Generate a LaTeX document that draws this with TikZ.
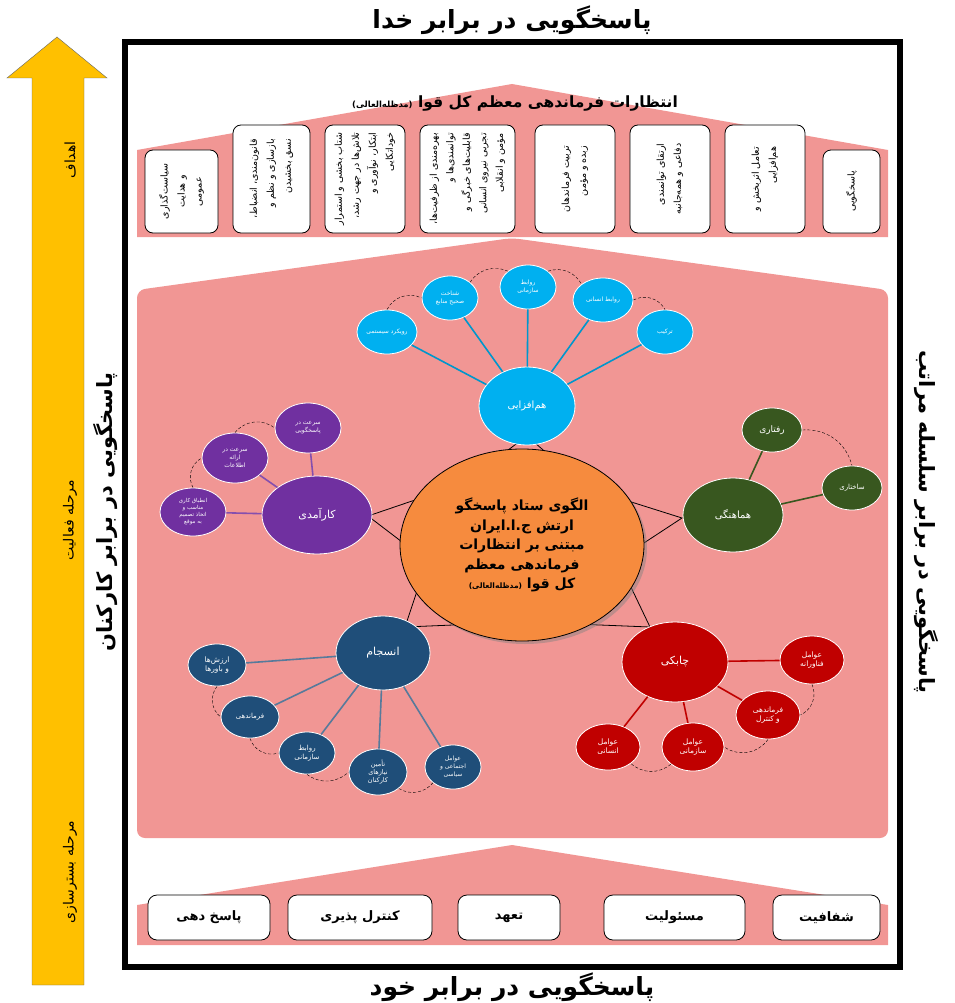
\documentclass[tikz,border=0pt]{standalone}
\usepackage{fontspec}
\usetikzlibrary{shapes.geometric,shadows}
\newfontfamily\fafont[Script=Arabic]{DejaVu Sans}
\TeXXeTstate=1
\newcommand{\fa}[1]{\beginR #1\endR}
\newcommand{\fsz}[2]{\fontsize{#1}{#2}\selectfont}
\definecolor{housepink}{HTML}{F19694}
\definecolor{coreorange}{HTML}{F68B3E}
\definecolor{arrowgold}{HTML}{FFC000}
\definecolor{synblue}{HTML}{00B0F0}
\definecolor{crdgreen}{HTML}{38571F}
\definecolor{effpurple}{HTML}{7030A0}
\definecolor{cohnavy}{HTML}{1F4E79}
\definecolor{aglred}{HTML}{C00000}

\begin{document}
\begin{tikzpicture}[x=1pt, y=-1pt,
    every node/.style={font=\fafont},
    ttl/.style={font=\fafont\bfseries\fsz{21}{25}},
    topbox/.style={draw, thick, fill=white, rounded corners=8pt, rotate=90, align=right, inner sep=2pt, font=\fafont\fsz{9.5}{17}},
    basebox/.style={draw, thick, fill=white, rounded corners=9pt, minimum height=45, font=\fafont\bfseries\fsz{13}{15}},
    hub/.style={ellipse, draw=white, thick, fill=#1, text=white, inner sep=0pt, font=\fafont\fsz{10}{12}},
    leaf/.style={ellipse, draw=white, thick, fill=#1, text=white, inner sep=0pt, align=center, font=\fafont\fsz{6}{8}},
    twig/.style={line width=1.6pt},
    dasharc/.style={densely dashed, thin},
    phase/.style={rotate=90, font=\fafont\fsz{14}{16}}]
    \useasboundingbox (0,0) rectangle (954,1003);

    % frame and titles
    \draw[line width=6pt] (125,42) rectangle (900,967);
    \node[ttl, font=\fafont\bfseries\fsz{25}{28}] (god) at (512,20) {\fa{پاسخگویی در برابر خدا}};
    \node[ttl, font=\fafont\bfseries\fsz{25}{28}] (self) at (512,987) {\fa{پاسخگویی در برابر خود}};
    \node[ttl, rotate=90] (staff) at (106,512) {\fa{پاسخگویی در برابر کارکنان}};
    \node[ttl, rotate=-90] (chain) at (926,522) {\fa{پاسخگویی در برابر سلسله مراتب}};

    % phase arrow
    \draw[fill=arrowgold, draw=black!60] (32,985) -- (32,78) -- (7,78) -- (57,37) -- (107,78) -- (84,78) -- (84,985) -- cycle;
    \node[phase] (goal) at (70,160) {\fa{اهداف}};
    \node[phase] (act) at (70,520) {\fa{مرحله فعالیت}};
    \node[phase] (base) at (70,872) {\fa{مرحله بسترسازی}};

    % houses
    \fill[housepink] (137,237) -- (137,150) -- (512,84) -- (888,150) -- (888,237) -- cycle;
    \fill[housepink, rounded corners=8pt] (137,838) -- (137,290) -- (512,238) -- (888,290) -- (888,838) -- cycle;
    \fill[housepink] (137,945) -- (137,905) -- (512,845) -- (888,905) -- (888,945) -- cycle;

    \node[font=\fafont\bfseries\fsz{15.5}{18}] (lead) at (515,104) {\fa{انتظارات فرماندهی معظم کل قوا {\fsz{8.5}{10}(مدظله‌العالی)}}};

    % top boxes
    \node[topbox, minimum width=83, minimum height=73, align=center] (t1) at (181.5,191.5) {\fa{سیاست‌گذاری}\\\fa{و هدایت}\\\fa{عمومی}};
    \node[topbox, minimum width=108, minimum height=77] (t2) at (271.5,179) {\fa{قانون‌مندی، انضباط،}\\\fa{بازسازی و نظم و}\\\fa{نسق بخشیدن}};
    \node[topbox, minimum width=108, minimum height=80] (t3) at (365,179) {\fa{شتاب بخشی و استمرار}\\\fa{تلاش‌ها در جهت رشد،}\\\fa{ابتکار، نوآوری و}\\\fa{خوداتکایی}};
    \node[topbox, minimum width=108, minimum height=95, font=\fafont\fsz{9.5}{16.5}] (t4) at (467.5,179) {\fa{بهره‌مندی از ظرفیت‌ها،}\\\fa{توانمندی‌ها و}\\\fa{قابلیت‌های خبرگی و}\\\fa{تجربی نیروی انسانی}\\\fa{مؤمن و انقلابی}};
    \node[topbox, minimum width=108, minimum height=80] (t5) at (575,179) {\fa{تربیت فرماندهان}\\\fa{زبده و مؤمن}};
    \node[topbox, minimum width=108, minimum height=80] (t6) at (670,179) {\fa{ارتقای توانمندی}\\\fa{دفاعی و همه‌جانبه}};
    \node[topbox, minimum width=108, minimum height=80] (t7) at (765,179) {\fa{تعامل اثربخش و}\\\fa{هم‌افزایی}};
    \node[topbox, minimum width=83, minimum height=57] (t8) at (851.5,191.5) {\fa{پاسخگویی}};

    % bottom boxes
    \node[basebox, minimum width=122] (b1) at (209,917.5) {\fa{پاسخ دهی}};
    \node[basebox, minimum width=144] (b2) at (360,917.5) {\fa{کنترل پذیری}};
    \node[basebox, minimum width=102] (b3) at (509,917.5) {\fa{تعهد}};
    \node[basebox, minimum width=141] (b4) at (674.5,917.5) {\fa{مسئولیت}};
    \node[basebox, minimum width=107] (b5) at (826.5,917.5) {\fa{شفافیت}};

    % core with star
    \draw[thick] (527,436) -- (587,488) -- (682,518) -- (618,560) -- (650,627) -- (525,622) -- (405,627) -- (427,561) -- (368,516) -- (462,484) -- cycle;
    \node[ellipse, draw, thick, fill=coreorange, minimum width=244, minimum height=192, align=center,
          drop shadow={opacity=0.45, shadow xshift=3pt, shadow yshift=-3pt},
          font=\fafont\bfseries\fsz{14}{19.5}] (core) at (522,545)
        {\fa{الگوی ستاد پاسخگو}\\\fa{ارتش ج.ا.ایران}\\\fa{مبتنی بر انتظارات}\\\fa{فرماندهی معظم}\\\fa{کل قوا {\fsz{7.5}{8}(مدظله‌العالی)}}};

    % hubs
    \node[hub=synblue, minimum width=96, minimum height=78] (syn) at (527,406) {\fa{هم‌افزایی}};
    \node[hub=crdgreen, minimum width=100, minimum height=74] (crd) at (733,515) {\fa{هماهنگی}};
    \node[hub=effpurple, minimum width=110, minimum height=78, font=\fafont\fsz{11}{12}] (eff) at (317,515) {\fa{کارآمدی}};
    \node[hub=cohnavy, minimum width=94, minimum height=74, font=\fafont\fsz{11}{12}] (coh) at (383,653) {\fa{انسجام}};
    \node[hub=aglred, minimum width=106, minimum height=80, font=\fafont\fsz{11}{12}] (agl) at (675,662) {\fa{چابکی}};

    % synergy leaves
    \node[leaf=synblue, minimum width=60, minimum height=44] (syn1) at (387,332) {\fa{رویکرد سیستمی}};
    \node[leaf=synblue, minimum width=56, minimum height=44] (syn2) at (450,298) {\fa{شناخت}\\\fa{صحیح منابع}};
    \node[leaf=synblue, minimum width=56, minimum height=44] (syn3) at (528,287) {\fa{روابط}\\\fa{سازمانی}};
    \node[leaf=synblue, minimum width=60, minimum height=44] (syn4) at (603,300) {\fa{روابط انسانی}};
    \node[leaf=synblue, minimum width=56, minimum height=44] (syn5) at (665,332) {\fa{ترکیب}};
    \foreach \k in {1,...,5} \draw[twig, synblue!85!black] (syn) -- (syn\k);
    \draw[dasharc] (syn1.north) to[bend left=45] (syn2.west);
    \draw[dasharc] (syn2.north east) to[bend left=40] (syn3.north west);
    \draw[dasharc] (syn3.north east) to[bend left=40] (syn4.north west);
    \draw[dasharc] (syn4.east) to[bend left=45] (syn5.north);

    % coordination leaves
    \node[leaf=crdgreen, minimum width=60, minimum height=44, font=\fafont\fsz{9}{10}] (crd1) at (772,430) {\fa{رفتاری}};
    \node[leaf=crdgreen, minimum width=60, minimum height=44, font=\fafont\fsz{7}{8}] (crd2) at (852,488) {\fa{ساختاری}};
    \foreach \k in {1,2} \draw[twig, crdgreen] (crd) -- (crd\k);
    \draw[dasharc] (crd1.east) to[bend left=40] (crd2.north);

    % efficiency leaves
    \node[leaf=effpurple, minimum width=66, minimum height=50] (eff1) at (308,428) {\fa{سرعت در}\\\fa{پاسخگویی}};
    \node[leaf=effpurple, minimum width=66, minimum height=50] (eff2) at (235,458) {\fa{سرعت در}\\\fa{ارائه}\\\fa{اطلاعات}};
    \node[leaf=effpurple, minimum width=66, minimum height=48, font=\fafont\fsz{5.5}{7}] (eff3) at (193,512) {\fa{انطباق کاری}\\\fa{مناسب و}\\\fa{اتخاذ تصمیم}\\\fa{به موقع}};
    \foreach \k in {1,2,3} \draw[twig, effpurple!85!white] (eff) -- (eff\k);
    \draw[dasharc] (eff2.north) to[bend left=45] (eff1.west);
    \draw[dasharc] (eff3.north) to[bend left=45] (eff2.west);

    % cohesion leaves
    \node[leaf=cohnavy, minimum width=58, minimum height=42, font=\fafont\fsz{7.5}{9}] (coh1) at (217,665) {\fa{ارزش‌ها}\\\fa{و باورها}};
    \node[leaf=cohnavy, minimum width=58, minimum height=42, font=\fafont\fsz{7}{9}] (coh2) at (250,717) {\fa{فرماندهی}};
    \node[leaf=cohnavy, minimum width=56, minimum height=42, font=\fafont\fsz{7}{9}] (coh3) at (307,753) {\fa{روابط}\\\fa{سازمانی}};
    \node[leaf=cohnavy, minimum width=58, minimum height=46, font=\fafont\fsz{6.5}{8}] (coh4) at (378,772) {\fa{تأمین}\\\fa{نیازهای}\\\fa{کارکنان}};
    \node[leaf=cohnavy, minimum width=56, minimum height=44, font=\fafont\fsz{6}{8}] (coh5) at (453,767) {\fa{عوامل}\\\fa{اجتماعی و}\\\fa{سیاسی}};
    \foreach \k in {1,...,5} \draw[twig, cohnavy!75!white] (coh) -- (coh\k);
    \draw[dasharc] (coh1.south) to[bend right=45] (coh2.west);
    \draw[dasharc] (coh2.south) to[bend right=45] (coh3.west);
    \draw[dasharc] (coh3.south) to[bend right=40] (coh4.west);
    \draw[dasharc] (coh4.south east) to[bend right=40] (coh5.south west);

    % agility leaves
    \node[leaf=aglred, minimum width=64, minimum height=48, font=\fafont\fsz{7.5}{9}] (agl1) at (812,660) {\fa{عوامل}\\\fa{فناورانه}};
    \node[leaf=aglred, minimum width=64, minimum height=48, font=\fafont\fsz{7.5}{9}] (agl2) at (768,715) {\fa{فرماندهی}\\\fa{و کنترل}};
    \node[leaf=aglred, minimum width=62, minimum height=48, font=\fafont\fsz{7.5}{9}] (agl3) at (693,747) {\fa{عوامل}\\\fa{سازمانی}};
    \node[leaf=aglred, minimum width=64, minimum height=46, font=\fafont\fsz{7.5}{9}] (agl4) at (608,747) {\fa{عوامل}\\\fa{انسانی}};
    \foreach \k in {1,...,4} \draw[twig, aglred] (agl) -- (agl\k);
    \draw[dasharc] (agl1.south) to[bend left=45] (agl2.east);
    \draw[dasharc] (agl2.south) to[bend left=45] (agl3.east);
    \draw[dasharc] (agl3.south west) to[bend left=40] (agl4.south east);
\end{tikzpicture}
\end{document}
